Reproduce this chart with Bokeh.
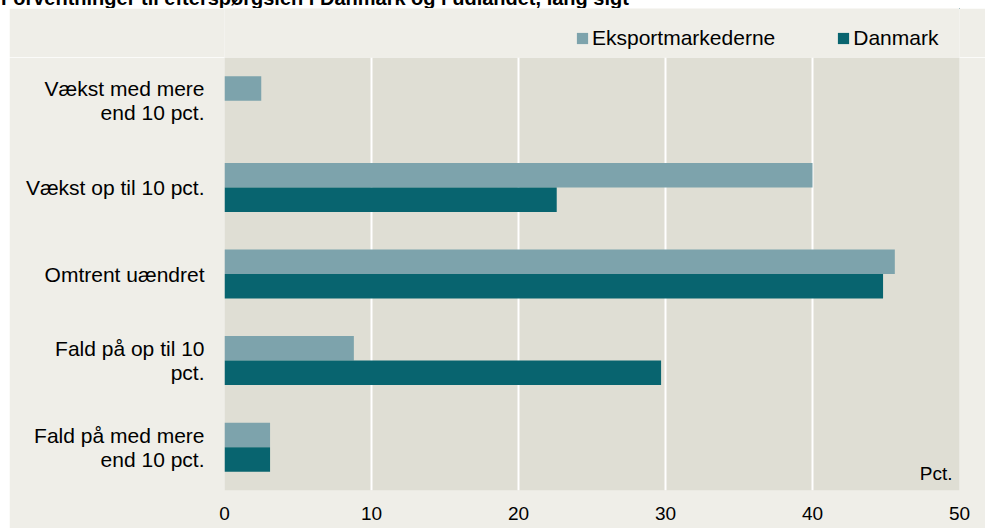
from bokeh.plotting import figure
from bokeh.models import (FactorRange, Range1d, Legend, LegendItem, Label, Div,
                          ColumnDataSource, FixedTicker)
from bokeh.transform import dodge
from bokeh.layouts import column
from bokeh.embed import file_html
from bokeh.resources import INLINE

# ---- data ----
title = "Forventninger til efterspørgslen i Danmark og i udlandet, lang sigt"
categories = ["Vækst med mere\nend 10 pct.", "Vækst op til 10 pct.", "Omtrent uændret",
              "Fald på op til 10\npct.", "Fald på med mere\nend 10 pct."]
eksport = [2.5, 40.0, 45.6, 8.8, 3.1]
danmark = [0.0, 22.6, 44.8, 29.7, 3.1]
series_names = ["Eksportmarkederne", "Danmark"]
x_ticks = [0, 10, 20, 30, 40, 50]
unit_label = "Pct."

# ---- styles ----
FONT = "Liberation Sans"
C_EKS = "#7DA3AC"
C_DK = "#08646F"
OUTER = "#EFEEE8"
INNER = "#DFDED4"

source = ColumnDataSource(dict(cat=categories, eksport=eksport, danmark=danmark))

# ---- main chart ----
p = figure(width=976, height=471, output_backend="svg", toolbar_location=None,
           y_range=FactorRange(*categories[::-1]), x_range=Range1d(0, 50),
           min_border_left=215, min_border_right=26, min_border_top=0, min_border_bottom=38)
p.background_fill_color = INNER
p.border_fill_color = OUTER
p.outline_line_color = None

p.hbar(y=dodge("cat", 0.1415, range=p.y_range), right="eksport", left=0, height=0.283,
       source=source, fill_color=C_EKS, line_color=None)
p.hbar(y=dodge("cat", -0.1415, range=p.y_range), right="danmark", left=0, height=0.283,
       source=source, fill_color=C_DK, line_color=None)

p.xaxis.ticker = FixedTicker(ticks=x_ticks)
p.xaxis.axis_line_color = None
p.xaxis.major_tick_line_color = None
p.xaxis.minor_tick_line_color = None
p.xaxis.major_tick_out = 0
p.xaxis.major_label_standoff = 16
p.xaxis.major_label_text_font = FONT
p.xaxis.major_label_text_font_size = "19px"
p.xaxis.major_label_text_color = "#000000"

p.yaxis.axis_line_color = None
p.yaxis.major_tick_line_color = None
p.yaxis.minor_tick_line_color = None
p.yaxis.major_tick_out = 0
p.yaxis.major_label_standoff = 20
p.yaxis.major_label_text_font = FONT
p.yaxis.major_label_text_font_size = "21px"
p.yaxis.major_label_text_color = "#000000"
p.yaxis.major_label_text_line_height = 1.05

p.xgrid.ticker = FixedTicker(ticks=x_ticks)
p.xgrid.grid_line_color = "#FFFFFF"
p.xgrid.grid_line_width = 2
p.ygrid.grid_line_color = None

p.add_layout(Label(x=50, y=0, x_offset=-7, y_offset=17, text=unit_label,
                   text_align="right", text_baseline="alphabetic",
                   text_font=FONT, text_font_size="19px", text_color="#000000"))
p.margin = (0, 0, 0, 9)

# ---- legend strip (frame is aligned with the chart's frame by the column) ----
lg = figure(width=976, height=49, output_backend="svg", toolbar_location=None,
            x_range=Range1d(0, 1), y_range=Range1d(0, 1),
            x_axis_type=None, y_axis_type=None,
            min_border_left=215, min_border_right=26, min_border_top=0, min_border_bottom=0)
lg.background_fill_color = OUTER
lg.border_fill_color = OUTER
lg.outline_line_color = None
lg.grid.visible = False
# legend swatches only: zero-size bars outside the visible range
l1 = lg.hbar(y="eksport", left="eksport", right="eksport", height=0.0, source=source,
             fill_color=C_EKS, line_color=None)
l2 = lg.hbar(y="danmark", left="danmark", right="danmark", height=0.0, source=source,
             fill_color=C_DK, line_color=None)
legend = Legend(items=[LegendItem(label=series_names[0], renderers=[l1]),
                       LegendItem(label=series_names[1], renderers=[l2])],
                orientation="horizontal", location=(351, 7),
                background_fill_alpha=0, border_line_color=None,
                glyph_width=14, glyph_height=14, label_standoff=3, spacing=61,
                padding=4, margin=0, label_height=24,
                label_text_font=FONT, label_text_font_size="21px", label_text_color="#000000")
lg.add_layout(legend, "center")
lg.margin = (0, 0, 0, 9)

head = Div(text=('<div style="font: bold 20px \'Liberation Sans\', Arial, sans-serif; '
                 'white-space: nowrap; position: relative; top: -12px; left: 1px; '
                 'line-height: 20px; color: #000;">' + title + '</div>'),
           width=985, height=8, styles={"overflow": "hidden"}, margin=(0, 0, 0, 0))

layout = column(head, lg, p, spacing=0, styles={"background-color": "#FFFFFF"})

open("out.html", "w").write(file_html(layout, INLINE))
